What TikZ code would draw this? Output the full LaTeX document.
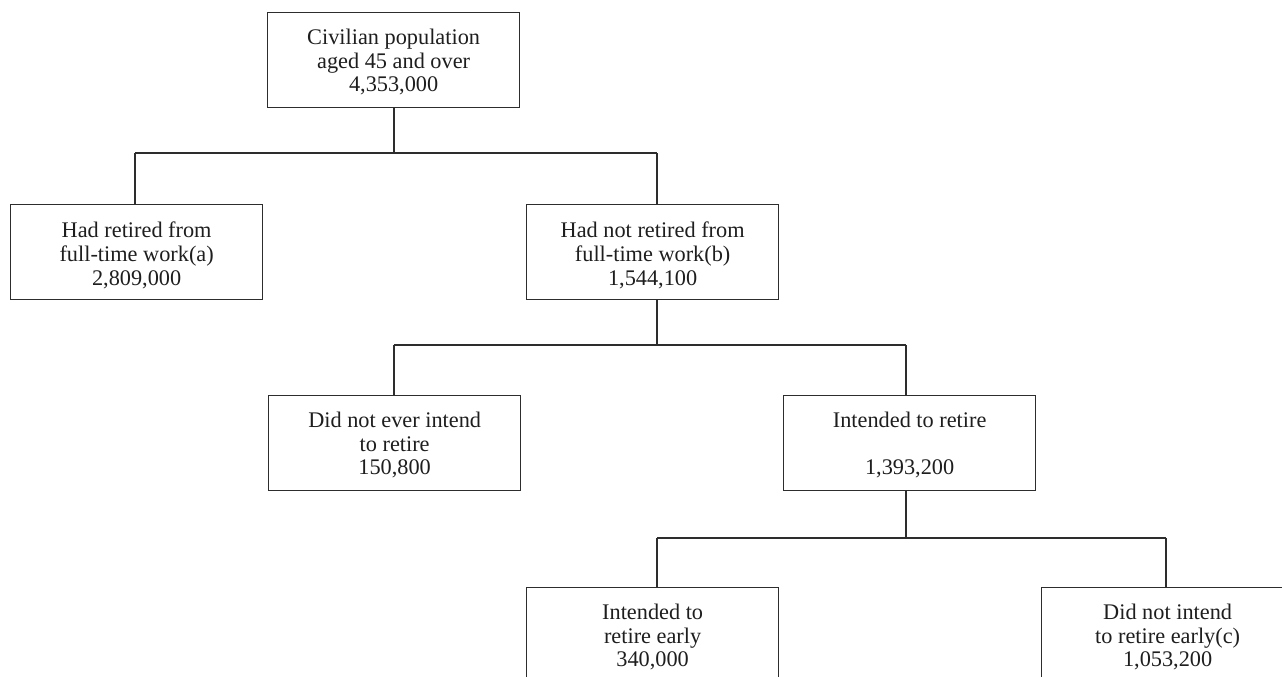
\documentclass[tikz,border=0pt]{standalone}
\usepackage{fontspec}
\setmainfont{Liberation Serif}
\definecolor{linec}{RGB}{45,45,45}
\definecolor{textc}{RGB}{30,30,30}
\begin{document}
\begin{tikzpicture}[x=1pt,y=-1pt,
  box/.style={draw=linec, line width=1.3pt, minimum width=252pt, minimum height=95pt, inner sep=0pt, anchor=north west},
  lbl/.style={align=center, inner sep=0pt, anchor=north, text=textc, font=\fontsize{22.3}{23.6}\selectfont},
  conn/.style={draw=linec, line width=1.3pt}]
\clip (0,0) rectangle (1282,677);
\useasboundingbox (0,0) rectangle (1282,677);
\fill[white] (0,0) rectangle (1282,677);

% boxes
\node[box] (b1) at (267,12) {};
\node[box] (b2) at (10,204) {};
\node[box] (b3) at (526,204) {};
\node[box] (b4) at (268,395) {};
\node[box] (b5) at (783,395) {};
\node[box] (b6) at (526,587) {};
\node[box] (b7) at (1041,587) {};

% texts
\node[lbl] (t1) at ([yshift=-17pt]b1.north) {Civilian population\\aged 45 and over\\4,353,000};
\node[lbl] (t2) at ([yshift=-18pt]b2.north) {Had retired from\\full-time work(a)\\2,809,000};
\node[lbl] (t3) at ([yshift=-18pt]b3.north) {Had not retired from\\full-time work(b)\\1,544,100};
\node[lbl] (t4) at ([yshift=-17pt]b4.north) {Did not ever intend\\to retire\\150,800};
\node[lbl] (t5) at ([yshift=-17pt]b5.north) {Intended to retire\\\mbox{}\\1,393,200};
\node[lbl] (t6) at ([yshift=-17pt]b6.north) {Intended to\\retire early\\340,000};
\node[lbl] (t7) at ([yshift=-17pt]b7.north) {Did not intend\\to retire early(c)\\1,053,200};

% junction coordinates
\coordinate (f1) at (394,153);
\coordinate (f1l) at (135,153);
\coordinate (f1r) at (657,153);
\coordinate (f2) at (657,345);
\coordinate (f2l) at (394,345);
\coordinate (f2r) at (906,345);
\coordinate (f3) at (906,538);
\coordinate (f3l) at (657,538);
\coordinate (f3r) at (1166,538);

% connectors
\draw[conn] (f1 |- b1.south) -- (f1);
\draw[conn] (f1l) -- (f1r);
\draw[conn] (f1l) -- (f1l |- b2.north);
\draw[conn] (f1r) -- (f1r |- b3.north);

\draw[conn] (f2 |- b3.south) -- (f2);
\draw[conn] (f2l) -- (f2r);
\draw[conn] (f2l) -- (f2l |- b4.north);
\draw[conn] (f2r) -- (f2r |- b5.north);

\draw[conn] (f3 |- b5.south) -- (f3);
\draw[conn] (f3l) -- (f3r);
\draw[conn] (f3l) -- (f3l |- b6.north);
\draw[conn] (f3r) -- (f3r |- b7.north);
\end{tikzpicture}
\end{document}
